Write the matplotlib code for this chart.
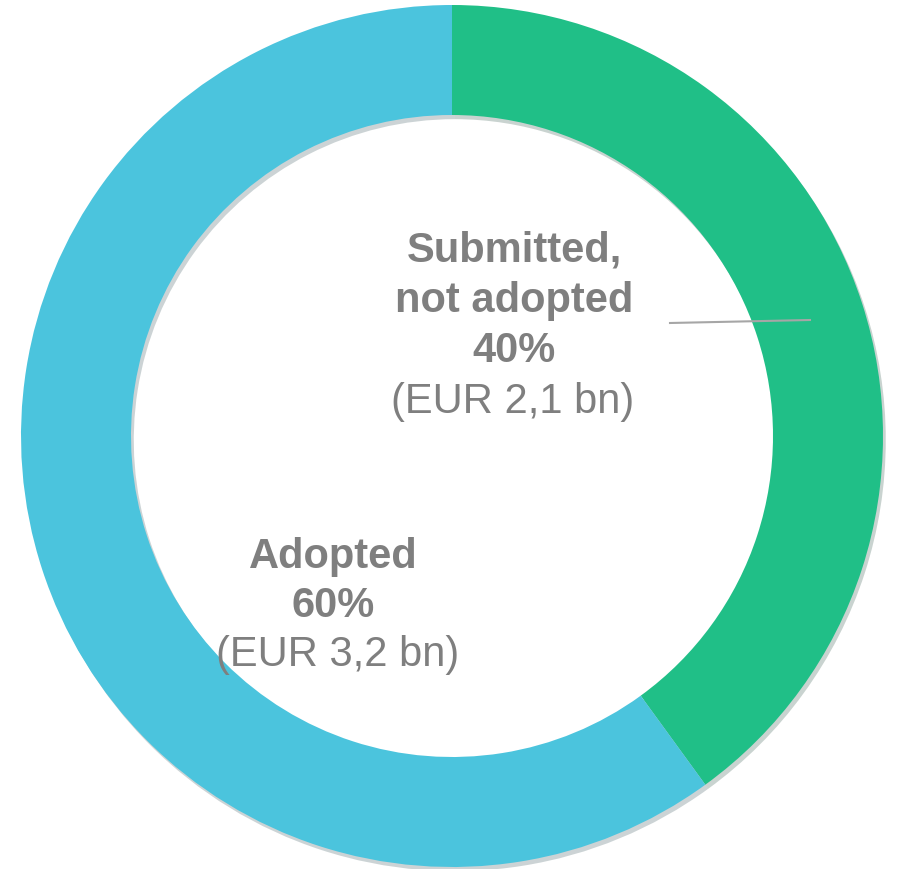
import matplotlib
matplotlib.use("Agg")
import matplotlib.pyplot as plt
import matplotlib.patheffects as pe

plt.rcParams["font.family"] = ["Liberation Sans", "DejaVu Sans"]

# Datos
etiquetas = [["Submitted,", "not adopted"], ["Adopted"]]
porcentajes = [40, 60]
importes = ["EUR 2,1 bn", "EUR 3,2 bn"]
colores = ["#20BF87", "#4BC4DD"]

fig = plt.figure(figsize=(8.97, 8.69), dpi=100)
ax = fig.add_axes([0, 0, 1, 1])

centro = (452, 433)
props = dict(startangle=90, counterclock=False, center=centro, radius=431, frame=True)

# sombra (se dibuja sola, debajo)
sombra, _ = ax.pie(porcentajes, colors=colores, wedgeprops=dict(width=110, linewidth=0), **props)
for w in sombra:
    w.set_path_effects([pe.SimplePatchShadow(offset=(2, -3), alpha=0.22)])

# donut, empieza arriba y va en sentido horario
cuñas, _ = ax.pie(porcentajes, colors=colores, wedgeprops=dict(width=110, linewidth=0), **props)

ax.set_xlim(0, 897)
ax.set_ylim(0, 869)
ax.set_aspect("equal")
ax.axis("off")

gris = "#7F7F7F"
H = 869

# etiqueta segmento verde + línea guía
ax.plot([670, 810], [H - 323, H - 320], color="#A6A6A6", lw=1.5, zorder=3)
lineas_v = etiquetas[0] + [f"{porcentajes[0]}%"]
for i, t in enumerate(lineas_v):
    ax.text(514, H - (251 + 50 * i), t, ha="center", va="center",
            fontsize=30, fontweight="bold", color=gris, zorder=4)
ax.text(513, H - 402, f"({importes[0]})", ha="center", va="center",
        fontsize=30, color=gris, zorder=4)

# etiqueta segmento azul
lineas_a = etiquetas[1] + [f"{porcentajes[1]}%"]
for i, t in enumerate(lineas_a):
    ax.text(333, H - (557 + 49 * i), t, ha="center", va="center",
            fontsize=30, fontweight="bold", color=gris, zorder=4)
ax.text(338, H - 655, f"({importes[1]})", ha="center", va="center",
        fontsize=30, color=gris, zorder=4)

plt.savefig("out.png", dpi=100)
